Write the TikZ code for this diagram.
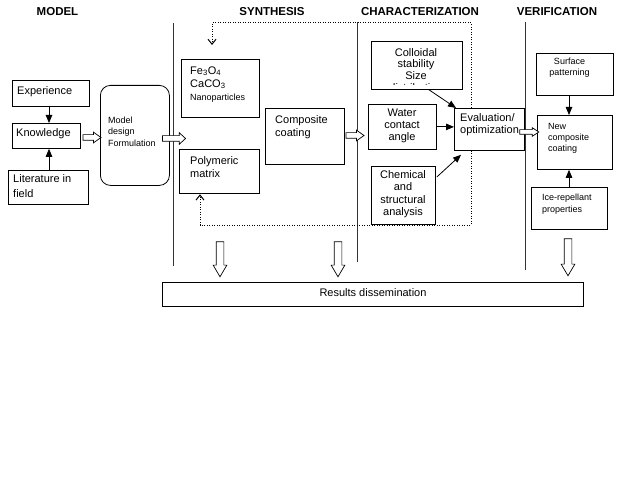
\documentclass[tikz,border=0pt]{standalone}
\usepackage{fontspec}
\setmainfont{Liberation Sans}
\usetikzlibrary{shapes.arrows,arrows.meta,calc}
\newcommand\bfnt{\fontsize{11}{12.5}\selectfont}
\newcommand\sfnt{\fontsize{9}{11.5}\selectfont}
\newcommand\tfnt{\fontsize{11.5}{13}\selectfont\bfseries}
\newcommand\tp{\rule{0pt}{10pt}}
\newcommand\sq{\hspace*{7pt}\rule{0pt}{7pt}}
\begin{document}
\begin{tikzpicture}[x=1pt,y=-1pt,
  box/.style={draw, line width=0.8pt, fill=white, inner sep=0pt, anchor=north west},
  txt/.style={inner sep=0pt, align=left, anchor=north west, font=\bfnt},
  ctxt/.style={inner sep=0pt, align=center, anchor=north, font=\bfnt},
  ttl/.style={inner sep=0pt, anchor=north, font=\tfnt},
  arr/.style={line width=0.8pt, -{Triangle[length=8pt,width=6.5pt]}},
  dots/.style={line width=1pt, dash pattern=on 1pt off 1.5pt, -{Straight Barb[length=5pt,width=8pt]}},
  divider/.style={line width=1pt, black!80},
  harrow/.style={single arrow, draw, fill=white, inner sep=0pt, outer sep=0pt, minimum width=0pt, line width=0.7pt}
]
\useasboundingbox (0,0) rectangle (621,492);

% titles
\node[ttl] (tmodel) at (57.5,5) {\tp MODEL};
\node[ttl] (tsynth) at (272,5) {\tp SYNTHESIS};
\node[ttl] (tchar) at (420,5) {\tp CHARACTERIZATION};
\node[ttl] (tver) at (557,5) {\tp VERIFICATION};

% dividers
\draw[divider] (173,23) -- (173,266);
\draw[divider] (357,22) -- (357,262);
\draw[divider] (525,22) -- (525,270);

% boxes
\node[box, minimum width=77, minimum height=26] (exp) at (12,80) {};
\node[box, minimum width=68, minimum height=25] (know) at (12,123) {};
\node[box, minimum width=80, minimum height=34] (lit) at (8,170) {};
\node[box, minimum width=69, minimum height=100, rounded corners=10pt] (model) at (100,85) {};
\node[box, minimum width=78, minimum height=58] (fe) at (181,59) {};
\node[box, minimum width=80, minimum height=44] (poly) at (179,149) {};
\node[box, minimum width=79, minimum height=56] (comp) at (265,108) {};
\node[box, minimum width=91, minimum height=48] (coll) at (371,41) {};
\node[box, minimum width=68, minimum height=45] (water) at (368,104) {};
\node[box, minimum width=64, minimum height=58] (chem) at (371,166) {};
\node[box, minimum width=70, minimum height=42] (eval) at (454,108) {};
\node[box, minimum width=77, minimum height=42] (surf) at (536,53) {};
\node[box, minimum width=75, minimum height=54] (newc) at (537,115) {};
\node[box, minimum width=76, minimum height=42] (ice) at (531,187) {};
\node[box, minimum width=421, minimum height=24] (res) at (162,282) {};

% texts
\node[txt] (expt) at (17,84) {\tp Experience};
\node[txt] (knowt) at (16,126) {\tp Knowledge};
\node[txt, font=\fontsize{11}{15}\selectfont] (litt) at (13,172) {\tp Literature in\\field};
\node[txt, font=\fontsize{9}{11.5}\selectfont] (modelt) at (108,113) {\tp Model\\design\\Formulation};
\node[txt, font=\fontsize{11}{13}\selectfont] (fet) at (190,64) {\tp Fe\textsubscript{3}O\textsubscript{4}\\CaCO\textsubscript{3}\\{\sfnt Nanoparticles}};
\node[txt, font=\fontsize{11}{13}\selectfont] (polyt) at (190,154) {\tp Polymeric\\matrix};
\node[txt, font=\fontsize{11}{13.5}\selectfont] (compt) at (275,113) {\tp Composite\\coating};
\node[ctxt, font=\fontsize{11}{11.5}\selectfont] (collt) at (416,46) {\tp Colloidal\\stability\\Size};
\begin{scope}
  \clip (372,80) rectangle (461,85);
  \node[ctxt] (colld) at (416,81) {\tp distribution};
\end{scope}
\node[ctxt, font=\fontsize{11}{12}\selectfont] (watert) at (402,106) {\tp Water\\contact\\angle};
\node[ctxt, font=\fontsize{11}{12.4}\selectfont] (chemt) at (403,168) {\tp Chemical\\and\\structural\\analysis};
\node[txt] (evalt) at (460,111) {\tp Evaluation/\\optimization};
\node[ctxt, font=\fontsize{9}{11}\selectfont] (surft) at (569.5,54) {\tp Surface\\patterning};
\node[txt, font=\fontsize{9}{11}\selectfont] (newt) at (548,119) {\tp New\\composite\\coating};
\node[txt, font=\fontsize{9}{12}\selectfont] (icet) at (542,190) {\tp Ice-repellant\\properties};
\node[ctxt] (rest) at (373,286) {\tp Results dissemination};

% solid arrows
\draw[arr] ($(exp.south west)+(37,0)$) -- ($(know.north west)+(37,0)$);
\draw[arr] ($(lit.north west)+(41,0)$) -- ($(know.south west)+(37,0)$);
\draw[arr] ($(coll.south west)+(58,0)$) -- ($(eval.north west)+(2,0)$);
\draw[arr] (water.east) -- (water.east -| eval.west);
\draw[arr] ($(chem.north east)+(1,11)$) -- ($(eval.south west)+(7,4)$);
\draw[arr] ($(surf.south west)+(33,0)$) -- ($(newc.north west)+(32,0)$);
\draw[arr] ($(ice.north west)+(38,0)$) -- ($(newc.south west)+(32,0)$);

% dotted feedback loops
\coordinate (dtop) at (0,23);
\coordinate (dbot) at (0,225);
\coordinate (er) at ($(eval.north west)+(17,0)$);
\coordinate (erb) at ($(eval.south west)+(17,0)$);
\coordinate (fin) at ($(fe.north west)+(31,-14)$);
\coordinate (pin) at ($(poly.south west)+(21,0.5)$);
\draw[dots] (er) -- (er |- dtop) -| (fin);
\draw[dots] (erb) -- (erb |- dbot) -| (pin);

% hollow arrows
\node[harrow, minimum height=18, single arrow head extend=2.5, single arrow tip angle=71] (h1) at (90,137.5) {\rule{0pt}{5pt}};
\node[harrow, minimum height=23, single arrow head extend=3, single arrow tip angle=85] (h2) at (172.5,138.5) {\rule{0pt}{5pt}};
\node[harrow, minimum height=18, single arrow head extend=2.5, single arrow tip angle=71] (h3) at (353,135.5) {\rule{0pt}{5pt}};
\node[harrow, minimum height=19, single arrow head extend=2, single arrow tip angle=67] (h4) at (527.5,132) {\rule{0pt}{4pt}};
\node[harrow, minimum height=35, single arrow head extend=3, single arrow tip angle=61, shape border rotate=270] (d1) at (220,256) {\sq};
\node[harrow, minimum height=35, single arrow head extend=3, single arrow tip angle=61, shape border rotate=270] (d2) at (338,256) {\sq};
\node[harrow, minimum height=37, single arrow head extend=3, single arrow tip angle=61, shape border rotate=270] (d3) at (568,254) {\sq};
\end{tikzpicture}
\end{document}
